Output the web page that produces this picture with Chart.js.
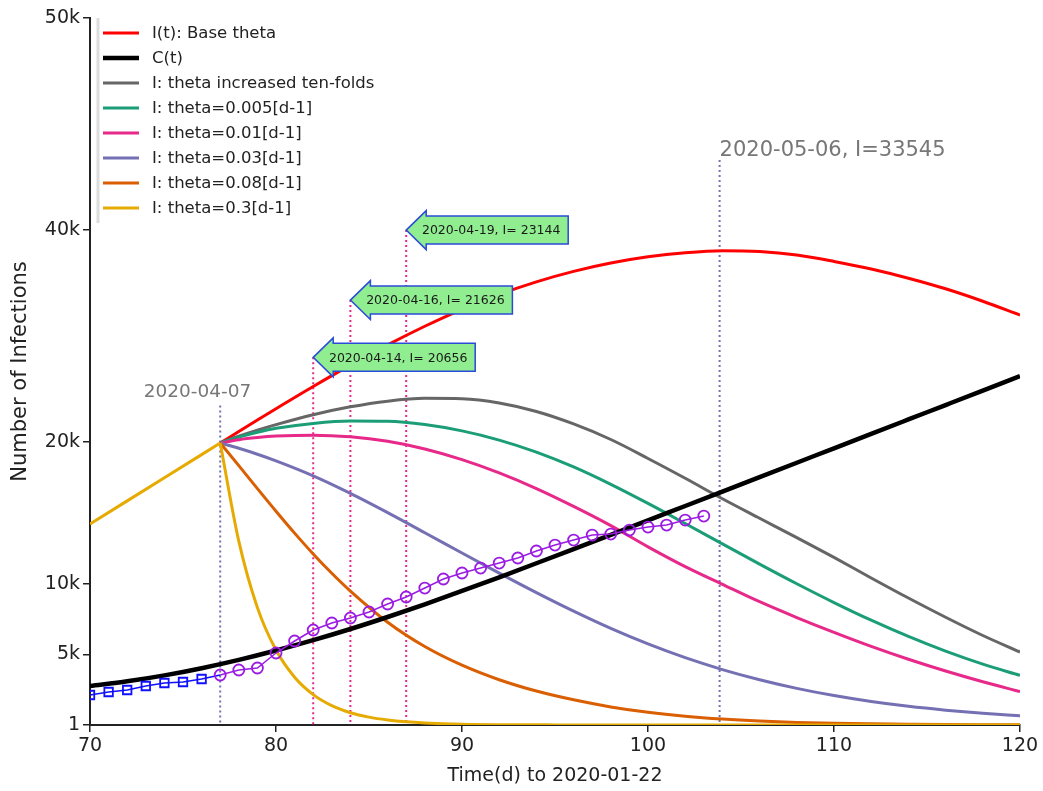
<!DOCTYPE html>
<html>
<head>
<meta charset="utf-8">
<script src="https://cdn.jsdelivr.net/npm/chart.js@4.4.1/dist/chart.umd.min.js"></script>
<style>
  html, body { margin: 0; padding: 0; background: #fff; }
  #wrap { width: 1043px; height: 791px; }
</style>
</head>
<body>
<div id="wrap"><canvas id="chart" width="1043" height="791"></canvas></div>
<script>
// x = days since 2020-01-22, y = number of infections
const histDays = [70, 72, 74, 76, 77];
const histI = [14213, 15850, 17490, 19120, 19940];

const curveDays = [77, 78, 79, 80, 82, 84, 86, 88, 90, 92, 94, 96, 98, 100, 102, 104, 106, 108, 110, 112, 114, 116, 118, 120];
const baseTheta = [19940, 20760, 21570, 22370, 23940, 25450, 26880, 28200, 29400, 30450, 31340, 32080, 32670, 33110, 33400, 33545, 33485, 33235, 32785, 32250, 31600, 30850, 29970, 28991];
const tenFold   = [19940, 20420, 20850, 21240, 21940, 22500, 22900, 23100, 23070, 22770, 22170, 21290, 20190, 18850, 17450, 16000, 14620, 13250, 11850, 10400, 8980, 7620, 6330, 5162];
const theta005  = [19940, 20360, 20700, 20980, 21330, 21500, 21480, 21250, 20800, 20150, 19300, 18250, 17020, 15670, 14250, 12810, 11380, 9990, 8660, 7410, 6260, 5220, 4300, 3510];
const theta01   = [19940, 20180, 20330, 20430, 20500, 20380, 20060, 19520, 18770, 17830, 16720, 15460, 14100, 12600, 11200, 9950, 8720, 7600, 6550, 5560, 4650, 3820, 3060, 2360];
const theta03   = [19940, 19570, 19150, 18680, 17620, 16380, 15020, 13600, 12160, 10740, 9360, 8050, 6830, 5730, 4760, 3920, 3200, 2590, 2080, 1660, 1320, 1050, 830, 650];

const theta08Days = [77, 78, 79, 80, 81, 82, 83, 84, 86, 88, 90, 92, 94, 96, 98, 100, 102, 104, 106, 108, 110, 112, 114, 116, 118, 120];
const theta08 = [19940, 18340, 16720, 15120, 13570, 12100, 10730, 9470, 7270, 5550, 4230, 3200, 2400, 1780, 1280, 900, 620, 420, 280, 185, 120, 80, 52, 35, 23, 15];

const theta3Days = [77, 78, 79, 80, 81, 82, 83, 84, 85, 86, 87, 88, 90, 95, 100, 110, 120];
const theta3 = [19940, 13000, 8300, 5300, 3380, 2150, 1370, 870, 555, 355, 225, 145, 60, 8, 2, 1, 1];

const cDays = [70, 72, 74, 76, 78, 80, 82, 84, 86, 88, 90, 92, 94, 96, 98, 100, 102, 104, 106, 108, 110, 112, 114, 116, 118, 120];
const cumC = [2758, 3088, 3508, 4018, 4608, 5268, 5998, 6788, 7638, 8538, 9478, 10448, 11438, 12438, 13448, 14468, 15488, 16508, 17528, 18548, 19568, 20588, 21608, 22628, 23648, 24668];

// observed data
const fitDays = [70, 71, 72, 73, 74, 75, 76, 77];
const fitI = [2121, 2333, 2475, 2758, 2970, 3041, 3253, 3536];
const obsDays = [77, 78, 79, 80, 81, 82, 83, 84, 85, 86, 87, 88, 89, 90, 91, 92, 93, 94, 95, 96, 97, 98, 99, 100, 101, 102, 103];
const obsI = [3536, 3889, 4030, 5091, 5940, 6717, 7212, 7566, 7990, 8556, 9051, 9687, 10324, 10748, 11101, 11455, 11809, 12304, 12728, 13081, 13435, 13506, 13788, 14001, 14142, 14496, 14778];

const yTickValues = [1, 5000, 10000, 20000, 35000, 50000];
const yTickLabels = ['1', '5k', '10k', '20k', '40k', '50k'];

// annotations
const guideDays = [77, 103.85];
const guideTops = [22600, 39950];
const arrowDays = [82, 84, 87];
const arrowTips = [26000, 30050, 35000];
const arrowTexts = ['2020-04-14, I= 20656', '2020-04-16, I= 21626', '2020-04-19, I= 23144'];

const FONT = '"DejaVu Sans", Verdana, sans-serif';

function pts(days, vals) {
  return days.map((d, i) => ({ x: d, y: vals[i] }));
}

function curve(label, days, vals, color, order, width) {
  return {
    label: label,
    data: pts(days, vals),
    borderColor: color,
    backgroundColor: color,
    borderWidth: width || 3,
    pointRadius: 0,
    cubicInterpolationMode: 'monotone',
    order: order,
    inLegend: true
  };
}

const datasets = [
  curve('I(t): Base theta', curveDays, baseTheta, '#ff0000', 9),
  curve('C(t)', cDays, cumC, '#000000', 2, 4.5),
  curve('I: theta increased ten-folds', curveDays, tenFold, '#666666', 8),
  curve('I: theta=0.005[d-1]', curveDays, theta005, '#1b9e77', 7),
  curve('I: theta=0.01[d-1]', curveDays, theta01, '#e7298a', 6),
  curve('I: theta=0.03[d-1]', curveDays, theta03, '#7570b3', 5),
  curve('I: theta=0.08[d-1]', theta08Days, theta08, '#d95f02', 4),
  curve('I: theta=0.3[d-1]', theta3Days, theta3, '#e6ab02', 3),
  {
    label: 'history',
    data: pts(histDays, histI),
    borderColor: '#e6ab02',
    borderWidth: 3,
    pointRadius: 0,
    order: 3
  },
  {
    label: 'fit',
    data: pts(fitDays, fitI),
    borderColor: '#1010ff',
    backgroundColor: 'rgba(0,0,0,0)',
    borderWidth: 1.5,
    pointStyle: 'rect',
    pointRadius: [6, 6, 6, 6, 6, 6, 6, 0],
    pointBorderWidth: 1.8,
    order: 1
  },
  {
    label: 'observed',
    data: pts(obsDays, obsI),
    borderColor: '#9b1be3',
    backgroundColor: 'rgba(0,0,0,0)',
    borderWidth: 1.5,
    pointStyle: 'circle',
    pointRadius: 5.5,
    pointBorderWidth: 1.8,
    order: 0
  }
];

function dotted(ctx, x, y0, y1, color) {
  ctx.beginPath();
  ctx.setLineDash([2, 3]);
  ctx.strokeStyle = color;
  ctx.lineWidth = 2;
  ctx.moveTo(x, y0);
  ctx.lineTo(x, y1);
  ctx.stroke();
  ctx.setLineDash([]);
}

function arrow(ctx, tx, ty, text) {
  const headL = 20, headH = 19.5, bodyH = 14, len = 162;
  ctx.beginPath();
  ctx.moveTo(tx, ty);
  ctx.lineTo(tx + headL, ty - headH);
  ctx.lineTo(tx + headL, ty - bodyH);
  ctx.lineTo(tx + len, ty - bodyH);
  ctx.lineTo(tx + len, ty + bodyH);
  ctx.lineTo(tx + headL, ty + bodyH);
  ctx.lineTo(tx + headL, ty + headH);
  ctx.closePath();
  ctx.fillStyle = '#90ee90';
  ctx.fill();
  ctx.strokeStyle = '#2a4bd7';
  ctx.lineWidth = 1.5;
  ctx.stroke();
  ctx.fillStyle = '#1a1a1a';
  ctx.font = '12.5px ' + FONT;
  ctx.textAlign = 'center';
  ctx.textBaseline = 'middle';
  ctx.fillText(text, tx + 85, ty + 1);
}

const overlay = {
  id: 'overlay',
  beforeDatasetsDraw(chart) {
    const { ctx, scales: { x, y } } = chart;
    const bottom = y.getPixelForValue(0);
    ctx.save();
    guideDays.forEach((d, i) => {
      dotted(ctx, x.getPixelForValue(d), y.getPixelForValue(guideTops[i]), bottom, '#7570b3');
    });
    arrowDays.forEach((d, i) => {
      dotted(ctx, x.getPixelForValue(d), y.getPixelForValue(arrowTips[i]), bottom, '#e7298a');
    });
    ctx.restore();
  },
  afterDatasetsDraw(chart) {
    const { ctx, scales: { x, y } } = chart;
    ctx.save();
    arrowDays.forEach((d, i) => {
      arrow(ctx, x.getPixelForValue(d), y.getPixelForValue(arrowTips[i]), arrowTexts[i]);
    });

    // grey date labels
    ctx.fillStyle = '#777777';
    ctx.textBaseline = 'alphabetic';
    ctx.font = '18.5px ' + FONT;
    ctx.textAlign = 'right';
    ctx.fillText('2020-04-07', x.getPixelForValue(guideDays[0]) + 31, y.getPixelForValue(guideTops[0]) - 8);
    ctx.font = '21px ' + FONT;
    ctx.textAlign = 'left';
    ctx.fillText('2020-05-06, I=33545', x.getPixelForValue(guideDays[1]), y.getPixelForValue(guideTops[1]) - 4);

    // legend
    const lx = chart.chartArea.left;
    const ly = chart.chartArea.top;
    ctx.strokeStyle = '#dddddd';
    ctx.lineWidth = 3;
    ctx.beginPath();
    ctx.moveTo(lx + 8, ly);
    ctx.lineTo(lx + 8, ly + 205);
    ctx.stroke();
    ctx.font = '16.5px ' + FONT;
    ctx.textAlign = 'left';
    ctx.textBaseline = 'middle';
    chart.data.datasets.filter(ds => ds.inLegend).forEach((ds, i) => {
      const rowY = ly + 15 + i * 25;
      ctx.strokeStyle = ds.borderColor;
      ctx.lineWidth = ds.borderWidth;
      ctx.beginPath();
      ctx.moveTo(lx + 13, rowY);
      ctx.lineTo(lx + 49, rowY);
      ctx.stroke();
      ctx.fillStyle = '#222222';
      ctx.fillText(ds.label, lx + 62, rowY + 1);
    });
    ctx.restore();
  }
};

new Chart(document.getElementById('chart'), {
  type: 'line',
  data: { datasets: datasets },
  plugins: [overlay],
  options: {
    responsive: false,
    animation: false,
    devicePixelRatio: 1,
    layout: { padding: { left: 0, right: 23, top: 18, bottom: 0 } },
    plugins: {
      legend: { display: false },
      tooltip: { enabled: false }
    },
    scales: {
      x: {
        type: 'linear',
        min: 70,
        max: 120,
        ticks: { stepSize: 10, color: '#222', font: { family: FONT, size: 19 }, padding: 3 },
        grid: { drawOnChartArea: false, drawTicks: true, tickLength: 7, color: '#222', lineWidth: 1.5 },
        border: { display: true, color: '#222', width: 2 },
        title: {
          display: true,
          text: 'Time(d) to 2020-01-22',
          color: '#222',
          font: { family: FONT, size: 19 },
          padding: { top: 0, bottom: 4 }
        },
        afterFit: (scale) => { scale.height = 66; }
      },
      y: {
        type: 'linear',
        min: 0,
        max: 50000,
        afterBuildTicks: (scale) => { scale.ticks = yTickValues.map(v => ({ value: v })); },
        ticks: {
          color: '#222',
          font: { family: FONT, size: 19 },
          padding: 3,
          callback: (v) => yTickLabels[yTickValues.indexOf(v)]
        },
        grid: { drawOnChartArea: false, drawTicks: true, tickLength: 7, color: '#222', lineWidth: 1.5 },
        border: { display: true, color: '#222', width: 2 },
        title: {
          display: true,
          text: 'Number of Infections',
          color: '#222',
          font: { family: FONT, size: 21 },
          padding: { top: 8, bottom: 0 }
        },
        afterFit: (scale) => { scale.width = 90; }
      }
    }
  }
});
</script>
</body>
</html>
